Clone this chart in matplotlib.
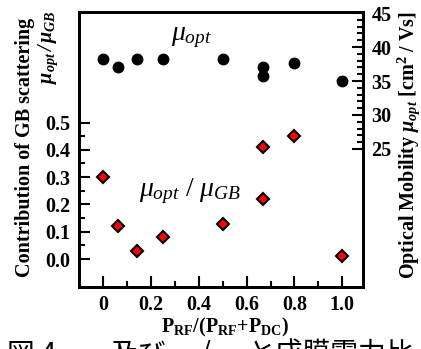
import matplotlib
matplotlib.use('Agg')
import matplotlib.pyplot as plt
from matplotlib.ticker import FixedLocator

# data
ratio = [0, 0.06, 0.14, 0.25, 0.5, 0.67, 0.67, 0.8, 1.0]
mu_opt = [38.2, 37.1, 38.2, 38.2, 38.3, 37.0, 35.7, 37.6, 35.0]
contrib = [0.30, 0.12, 0.03, 0.08, 0.13, 0.22, 0.41, 0.45, 0.01]

x_ticks = [0, 0.2, 0.4, 0.6, 0.8, 1.0]
x_labels = ['0', '0.2', '0.4', '0.6', '0.8', '1.0']
left_ticks = [0.0, 0.1, 0.2, 0.3, 0.4, 0.5]
left_labels = ['0.0', '0.1', '0.2', '0.3', '0.4', '0.5']
right_ticks = [25, 30, 35, 40, 45]

plt.rcParams['font.family'] = ['Liberation Serif', 'DejaVu Serif']
plt.rcParams['font.weight'] = 'bold'
plt.rcParams['mathtext.fontset'] = 'custom'
plt.rcParams['mathtext.rm'] = 'Liberation Serif:normal'
plt.rcParams['mathtext.it'] = 'Liberation Serif:italic:normal'
plt.rcParams['mathtext.bf'] = 'Liberation Serif:bold'
plt.rcParams['mathtext.bfit'] = 'Liberation Serif:italic:bold'

W, H = 421, 349
fig = plt.figure(figsize=(W / 100, H / 100), dpi=100)
ax = fig.add_axes([79 / W, 62 / H, 284 / W, 275 / H])
ax2 = ax.twinx()

ax.plot(ratio, contrib, 'D', ms=6.5, mfc='red', mec='black', mew=1.5, zorder=3)
ax2.plot(ratio, mu_opt, 'o', ms=7.5, color='black')

ax.set_xlim(-0.102, 1.087)
ax.set_ylim(-0.1025, 0.905)
ax2.set_ylim(4.7, 45.15)

ax.set_xticks(x_ticks)
ax.set_xticklabels(x_labels)
ax.xaxis.set_minor_locator(FixedLocator([0.1, 0.3, 0.5, 0.7, 0.9]))
ax.set_yticks(left_ticks)
ax.set_yticklabels(left_labels)
ax.yaxis.set_minor_locator(FixedLocator([0.05, 0.15, 0.25, 0.35, 0.45]))
ax2.set_yticks(right_ticks)
ax2.yaxis.set_minor_locator(FixedLocator(list(range(26, 45))))

for a in (ax, ax2):
    a.tick_params(which='major', direction='in', length=8, width=1.5, labelsize=14.5, pad=6)
    a.tick_params(which='minor', direction='in', length=4, width=1.5)
    for s in a.spines.values():
        s.set_linewidth(2)

ax.text(0.37, 0.81, r'$\mu_{opt}$', fontsize=20, ha='center', va='center')
ax.text(0.363, 0.25, r'$\mu_{opt}\ /\ \mu_{GB}$', fontsize=20, ha='center', va='center')

fig.text(25 / W, 1 - 147 / H, 'Contribution of GB scattering', rotation=90,
         ha='center', va='center', fontsize=14.5)
fig.text(48 / W, 1 - 10 / H,
         r'$\mathbfit{\mu}_{\mathbfit{opt}}\,\mathbfit{/}\,\mathbfit{\mu}_{\mathbfit{GB}}$',
         rotation=90, ha='center', va='top', fontsize=14.5)
fig.text(409 / W, 1 - 145 / H,
         r'Optical Mobility $\mathbfit{\mu}_{\mathbfit{opt}}$ [cm$^{\mathbf{2}}$ / Vs]',
         rotation=90, ha='center', va='center', fontsize=14.5)
fig.text(225 / W, 1 - 327 / H,
         r'P$_{\mathbf{RF}}$/(P$_{\mathbf{RF}}$+P$_{\mathbf{DC}}$)',
         ha='center', va='center', fontsize=14.5)

# caption under the figure, cut off at the bottom edge
for xp, s in [(7, '図 4'), (110, '及び'), (200, '/'), (247, 'と成膜電力比')]:
    fig.text(xp / W, 1 - 340 / H, s, family=['Noto Sans CJK JP', 'DejaVu Sans'],
             fontweight='normal', fontsize=20, va='top', ha='left')

fig.savefig('out.png', dpi=100)
